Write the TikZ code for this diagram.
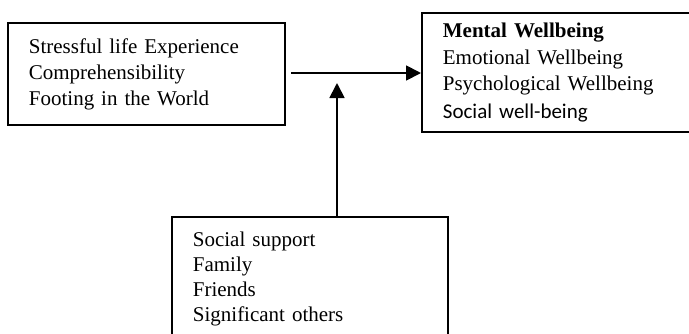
\documentclass[tikz,border=0pt]{standalone}
\usepackage{fontspec}
\setmainfont{Liberation Serif}
\newfontfamily\calibrifont{Carlito}
\usetikzlibrary{arrows.meta}

\tikzset{
  boxed/.style={draw,line width=1.8pt,anchor=north west,align=left,
    inner xsep=21pt,inner ysep=0pt,font=\fontsize{21}{25}\selectfont},
  flow/.style={line width=1.8pt,-{Triangle[length=15pt,width=15pt]}}
}

\begin{document}
\begin{tikzpicture}[x=1pt,y=-1pt]
\useasboundingbox (0,0) rectangle (689,333);

%stressors
\node[boxed,minimum width=277pt,minimum height=102pt,text width=235pt,
  font=\fontsize{21}{26}\selectfont] (stress) at (7,22)
  {Stressful life Experience\\Comprehensibility\\Footing in the World};
%mental wellbeing
\node[boxed,minimum width=290pt,minimum height=119pt,text width=248pt,
  font=\fontsize{21}{26.5}\selectfont] (mwb) at (421,12)
  {\textbf{Mental Wellbeing}\\Emotional Wellbeing\\Psychological Wellbeing\\[1pt]{\calibrifont Social well-being}};
%social support
\node[boxed,minimum width=276pt,minimum height=124pt,text width=234pt] (support) at (171,216)
  {Social support\\Family\\Friends\\Significant others};

%arrows
\coordinate (start) at (291,73);
\coordinate (join) at (337,83);
\draw[flow] (start) -- (start -| mwb.west);
\draw[flow] (join |- support.north) -- (join);

\end{tikzpicture}
\end{document}
